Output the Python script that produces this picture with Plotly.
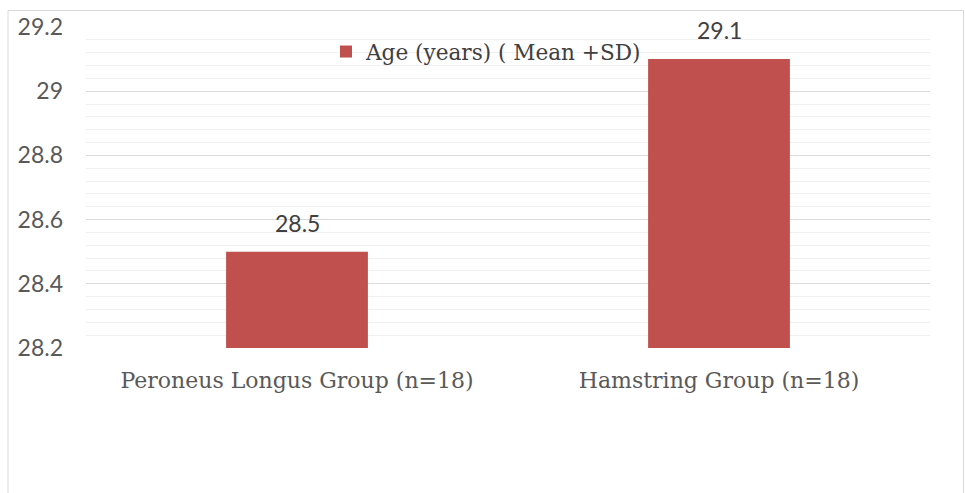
import plotly.graph_objects as go

categories = ["Peroneus Longus Group (n=18)", "Hamstring Group (n=18)"]
values = [28.5, 29.1]
series_name = "Age (years) ( Mean +SD)"
tick_vals = [28.2, 28.4, 28.6, 28.8, 29.0, 29.2]
tick_text = ["28.2", "28.4", "28.6", "28.8", "29", "29.2"]

W, H = 965, 493
L, R, T, B = 86, 35, 27, 145
pw, ph = W - L - R, H - T - B

def px_x(p):
    return (p - L) / pw

def px_y(p):
    return (H - B - p) / ph

fig = go.Figure()
fig.add_trace(go.Bar(
    x=categories, y=values, name=series_name,
    marker=dict(color="#C0504D", line=dict(width=0)),
    width=0.336,
))

for c, v in zip(categories, values):
    fig.add_annotation(x=c, y=v, text=f"{v}", showarrow=False,
                       yanchor="bottom", yshift=13,
                       font=dict(family="Lato", size=23, color="#404040"))

fig.add_shape(type="rect", xref="paper", yref="paper",
              x0=px_x(8), x1=px_x(963.5), y0=px_y(10.5), y1=px_y(520),
              line=dict(color="#D9D9D9", width=1), layer="below")

fig.update_layout(
    width=W, height=H,
    margin=dict(l=L, r=R, t=T, b=B, autoexpand=False),
    paper_bgcolor="white", plot_bgcolor="white",
    bargap=0.664,
    showlegend=True,
    legend=dict(orientation="h", x=px_x(326), xanchor="left",
                y=px_y(52), yanchor="middle",
                font=dict(family="DejaVu Serif", size=21.6, color="#404040"),
                bgcolor="rgba(0,0,0,0)"),
    xaxis=dict(showgrid=False, showline=False, ticks="",
               tickfont=dict(family="DejaVu Serif", size=22, color="#595959"),
               ticklabelstandoff=17),
    yaxis=dict(range=[28.2, 29.2], tickmode="array", tickvals=tick_vals,
               ticktext=tick_text, showgrid=True, gridcolor="#D9D9D9", gridwidth=1,
               zeroline=False, showline=False, ticks="",
               ticklabelstandoff=22,
               tickfont=dict(family="Lato", size=23, color="#595959"),
               minor=dict(dtick=0.04, tick0=28.2, showgrid=True,
                          gridcolor="#F0F0F0", gridwidth=1)),
)

fig.write_html("out.html")
